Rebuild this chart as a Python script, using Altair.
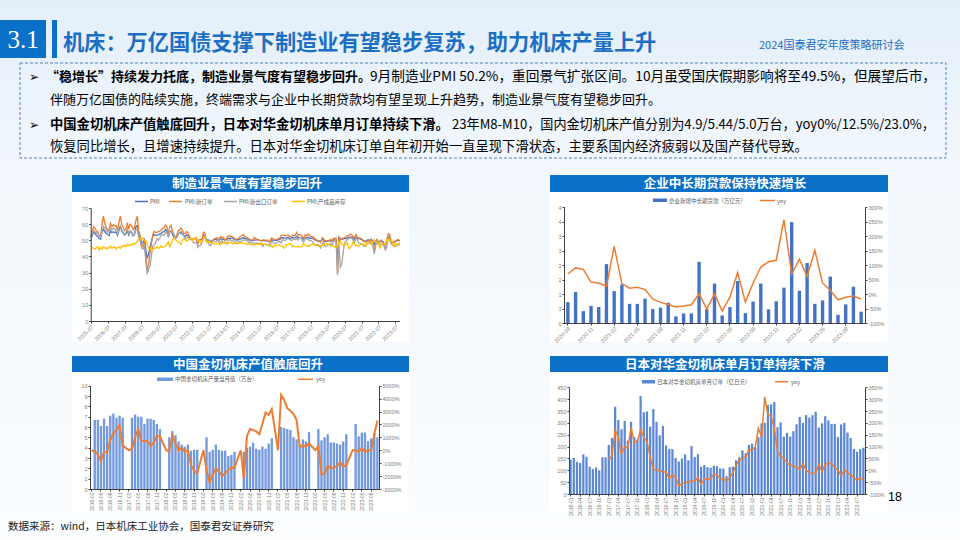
import altair as alt
import pandas as pd

FONT = "Noto Sans CJK SC"
HDR_BLUE = "#0b70c8"
BAR_BLUE = "#4472c4"
ORANGE = "#ed7d31"

# ---------------- data ----------------
def months(y0, m0, n):
    out, y, m = [], y0, m0
    for _ in range(n):
        out.append(f"{y}-{m:02d}")
        m += 1
        if m > 12:
            m, y = 1, y + 1
    return out

# Panel 1: PMI, 2005-07 .. 2023-10 (monthly)
pmi = [51.1, 52.6, 55.1, 54.1, 53.1, 52.2,
       51.1, 50.7, 55.3, 56.8, 55.3, 54.4, 53.5, 52.8, 55.7, 54.7, 55.3, 54.8,
       55.1, 53.1, 56.1, 58.6, 55.8, 54.5, 53.3, 54.0, 56.1, 53.2, 55.4, 55.3,
       53.0, 53.4, 58.4, 59.2, 53.3, 52.0, 48.4, 48.4, 51.2, 44.6, 38.8, 41.2,
       45.3, 49.0, 52.4, 53.5, 53.1, 53.2, 53.3, 54.0, 54.3, 55.2, 55.2, 56.6,
       55.8, 52.0, 55.1, 55.7, 53.9, 52.1, 51.2, 51.7, 53.8, 54.7, 55.2, 53.9,
       52.9, 52.2, 53.4, 52.9, 52.0, 50.9, 50.7, 50.9, 51.2, 50.4, 49.0, 50.3,
       50.5, 51.0, 53.1, 53.3, 50.4, 50.2, 50.1, 49.2, 49.8, 50.2, 50.6, 50.6,
       50.4, 50.1, 50.9, 50.6, 50.8, 50.1, 50.3, 51.0, 51.1, 51.4, 51.4, 51.0,
       50.5, 50.2, 50.3, 50.4, 50.8, 51.0, 51.7, 51.1, 51.1, 50.8, 50.3, 50.1,
       49.8, 49.9, 50.1, 50.1, 50.2, 50.2, 50.0, 49.7, 49.8, 49.8, 49.6, 49.7,
       49.4, 49.0, 50.2, 50.1, 50.1, 50.0, 49.9, 50.4, 50.4, 51.2, 51.7, 51.4,
       51.3, 51.6, 51.8, 51.2, 51.2, 51.7, 51.4, 51.7, 52.4, 51.6, 51.8, 51.6,
       51.3, 50.3, 51.5, 51.4, 51.9, 51.5, 51.2, 51.3, 50.8, 50.2, 50.0, 49.4,
       49.5, 49.2, 50.5, 50.1, 49.4, 49.4, 49.7, 49.5, 49.8, 49.3, 50.2, 50.2,
       50.0, 35.7, 52.0, 50.8, 50.6, 50.9, 51.1, 51.0, 51.5, 51.4, 52.1, 51.9,
       51.3, 50.6, 51.9, 51.1, 51.0, 50.9, 50.4, 50.1, 49.6, 49.2, 50.1, 50.3,
       50.1, 50.2, 49.5, 47.4, 49.6, 50.2, 49.0, 49.4, 50.1, 49.2, 48.0, 47.0,
       50.1, 52.6, 51.9, 49.2, 48.8, 49.0, 49.3, 49.7, 50.2, 49.5]
new_orders = [52.5, 55.0, 58.5, 57.5, 56.0, 55.0,
              53.0, 52.5, 59.5, 65.0, 60.5, 58.0, 56.0, 56.5, 60.5, 58.5, 59.5, 59.0,
              59.0, 56.0, 61.0, 65.0, 60.0, 58.0, 56.0, 57.0, 61.0, 57.0, 60.0, 59.0,
              56.5, 57.5, 62.0, 65.0, 56.0, 53.5, 47.5, 46.0, 50.0, 41.0, 31.0, 35.0,
              41.8, 47.5, 53.6, 55.5, 54.8, 55.0, 55.4, 55.6, 56.4, 57.6, 57.7, 59.4,
              58.5, 53.4, 58.3, 59.3, 55.6, 53.5, 51.7, 52.9, 56.0, 56.3, 57.6, 56.2,
              54.1, 54.1, 55.4, 54.7, 52.3, 50.9, 50.6, 50.9, 51.3, 50.5, 47.8, 50.0,
              50.2, 51.0, 55.1, 54.5, 49.8, 49.2, 49.0, 48.7, 49.8, 50.4, 51.2, 51.2,
              51.6, 50.1, 52.3, 51.7, 51.8, 50.4, 50.6, 52.4, 52.8, 52.5, 52.3, 52.0,
              50.9, 50.5, 51.1, 51.2, 52.3, 52.8, 53.6, 52.5, 52.2, 51.6, 50.9, 50.4,
              50.2, 50.4, 51.8, 51.0, 50.6, 50.1, 49.9, 49.7, 50.2, 50.3, 49.8, 50.2,
              49.5, 48.6, 51.4, 51.0, 50.7, 50.5, 50.4, 51.3, 50.9, 52.8, 53.2, 53.2,
              52.8, 53.0, 53.3, 52.3, 52.3, 53.1, 52.8, 53.1, 54.8, 52.9, 53.6, 53.4,
              52.6, 51.0, 53.3, 52.9, 53.8, 53.2, 52.3, 52.2, 52.0, 50.8, 50.4, 49.7,
              49.6, 48.6, 51.6, 51.4, 49.8, 49.6, 49.8, 49.7, 50.5, 49.6, 51.3, 51.2,
              51.4, 29.3, 52.0, 50.2, 50.9, 51.4, 51.7, 52.0, 52.8, 52.8, 53.9, 53.6,
              52.3, 51.5, 53.6, 52.0, 51.3, 51.5, 50.9, 49.6, 49.3, 48.8, 49.4, 49.7,
              49.3, 50.7, 48.8, 42.6, 48.2, 50.4, 48.5, 49.2, 49.8, 48.1, 46.4, 43.9,
              50.9, 54.1, 53.6, 48.8, 48.3, 48.6, 49.5, 50.2, 50.5, 49.5]
export_orders = [52.5, 53.5, 56.0, 55.5, 54.0, 55.0,
                 53.0, 52.0, 56.0, 58.5, 57.5, 56.0, 55.0, 55.0, 58.0, 56.5, 57.5, 57.0,
                 56.0, 54.0, 57.5, 59.0, 56.5, 55.0, 53.5, 54.5, 57.5, 54.0, 56.0, 55.0,
                 52.5, 53.5, 56.5, 57.5, 52.0, 50.0, 45.5, 44.5, 46.5, 38.0, 29.0, 32.0,
                 33.7, 40.2, 46.4, 47.2, 48.5, 50.9, 50.0, 51.4, 53.2, 53.5, 52.9, 54.6,
                 54.6, 52.5, 55.5, 55.9, 55.0, 53.5, 51.2, 51.9, 53.8, 54.6, 54.3, 53.6,
                 52.9, 50.5, 51.2, 52.0, 51.1, 50.4, 50.3, 48.3, 48.6, 48.6, 45.6, 46.9,
                 46.9, 49.0, 51.1, 51.9, 49.8, 48.9, 47.4, 46.6, 48.4, 50.1, 49.4, 49.1,
                 50.6, 48.3, 48.6, 50.1, 48.3, 48.6, 47.7, 49.2, 50.2, 50.4, 49.5, 49.8,
                 49.3, 48.2, 49.1, 49.3, 49.3, 49.3, 50.1, 50.2, 50.1, 49.9, 48.4, 49.1,
                 48.4, 48.5, 48.4, 48.1, 48.3, 48.2, 47.9, 47.7, 46.2, 47.6, 47.5, 47.5,
                 47.4, 46.4, 49.0, 49.1, 48.1, 47.9, 48.5, 49.2, 49.2, 48.4, 50.3, 50.1,
                 49.8, 50.8, 51.0, 50.6, 50.0, 50.1, 50.9, 50.4, 51.0, 50.1, 51.6, 51.9,
                 49.5, 49.0, 51.3, 50.7, 51.2, 49.8, 49.8, 49.4, 48.0, 46.9, 47.0, 46.6,
                 46.9, 45.2, 47.1, 49.2, 46.5, 46.3, 46.9, 47.2, 48.2, 47.0, 48.8, 50.3,
                 48.7, 28.7, 46.4, 33.5, 35.3, 42.6, 48.4, 49.1, 50.8, 51.0, 51.5, 51.3,
                 50.2, 48.8, 51.2, 50.4, 48.3, 48.1, 47.7, 46.7, 46.2, 46.6, 48.5, 48.1,
                 48.4, 49.0, 47.2, 41.6, 46.2, 49.5, 47.4, 48.1, 47.0, 47.6, 46.7, 44.2,
                 46.1, 52.4, 50.4, 47.6, 47.2, 46.4, 46.3, 46.7, 47.8, 46.8]
inventory = [46.5, 45.5, 45.0, 44.5, 45.5, 46.0,
             44.0, 45.5, 44.5, 46.0, 45.5, 44.5, 45.5, 45.0, 46.5, 45.0, 45.5, 46.0,
             44.5, 45.5, 46.0, 45.0, 46.5, 46.0, 47.0, 46.0, 47.5, 46.5, 47.5, 47.0,
             48.0, 47.5, 48.5, 49.0, 50.5, 51.5, 51.0, 51.5, 50.0, 50.0, 47.5, 45.0,
             44.5, 45.5, 44.0, 45.5, 45.0, 46.0, 45.0, 45.5, 46.5, 45.5, 46.0, 46.5,
             47.5, 49.0, 46.0, 48.0, 50.0, 51.5, 50.5, 49.5, 49.0, 48.5, 47.5, 50.0,
             51.0, 50.5, 49.5, 50.0, 51.0, 51.5, 50.0, 51.0, 50.5, 52.0, 49.5, 50.0,
             48.5, 49.5, 51.0, 52.5, 49.0, 48.5, 49.5, 49.0, 48.5, 48.5, 47.5, 47.9,
             47.8, 47.7, 47.2, 48.6, 48.5, 49.2, 48.1, 47.7, 48.3, 48.8, 48.4, 47.9,
             48.4, 48.2, 48.0, 48.1, 48.7, 48.2, 48.1, 47.9, 48.3, 47.4, 47.7, 47.6,
             47.3, 47.2, 47.8, 47.3, 47.7, 47.5, 47.5, 48.3, 47.4, 47.8, 47.3, 47.2,
             47.1, 47.3, 46.9, 45.6, 46.8, 46.5, 47.1, 46.7, 47.1, 46.4, 46.2, 45.0,
             45.9, 47.4, 47.4, 48.0, 47.5, 46.1, 46.5, 46.1, 46.1, 46.1, 46.1, 45.8,
             46.3, 48.1, 46.9, 46.3, 46.6, 46.3, 47.4, 47.3, 47.5, 47.5, 47.1, 47.5,
             46.5, 46.1, 47.0, 46.5, 48.1, 48.1, 47.1, 47.8, 46.5, 46.6, 46.4, 45.6,
             46.0, 46.1, 49.1, 49.3, 47.3, 46.8, 47.6, 47.1, 48.4, 44.9, 45.7, 46.2,
             49.0, 48.0, 46.7, 46.8, 46.5, 47.1, 47.6, 47.7, 47.2, 46.3, 48.5, 48.5,
             48.0, 47.3, 48.9, 50.3, 49.3, 48.6, 48.0, 45.2, 47.3, 48.0, 48.1, 47.2,
             50.6, 50.6, 49.5, 50.4, 48.9, 46.2, 48.2, 47.6, 47.1, 48.5]
pmi_series = ["PMI", "PMI:新订单", "PMI:新出口订单", "PMI:产成品库存"]
pmi_colors = ["#4472c4", "#ed7d31", "#a5a5a5", "#ffc000"]

# Panel 2: corporate medium/long-term loans, 2020-08 .. 2023-10
loan_months = months(2020, 8, 39)
loans = [0.72, 1.07, 0.41, 0.59, 0.55, 2.03, 1.10, 1.33, 0.66, 0.66, 0.84, 0.48, 0.53,
         0.70, 0.23, 0.33, 0.33, 2.11, 0.48, 1.36, 0.26, 0.55, 1.45, 0.34, 0.74, 1.36,
         0.47, 0.75, 1.22, 3.48, 1.11, 2.07, 0.66, 0.78, 1.60, 0.28, 0.64, 1.25, 0.39]
loans_yoy = [69, 90, 85, 41, 38, 26, 164, 36, 20, 23, 15, -17, -29,
             -36, -45, -41, -37, 1, -52, 0, -59, -11, 74, -28, 38, 93,
             111, 116, 256, 69, 120, 60, 151, 38, 13, -20, -11, -7, -17]

# Panel 3: China metal-cutting machine tool output, 2016-02 .. 2023-10
cn_months = months(2016, 2, 93)
N = None
cn_output = [N, 6.7, 6.7, 6.1, 6.8, 6.1, 7.1, 7.3, 6.9, 7.1, 6.9,
             N, N, 6.9, 7.2, 7.0, 7.0, 6.3, 6.8, 6.8, 6.7, 6.3, 5.8,
             N, N, 5.0, 5.6, 5.2, 4.6, 4.3, 4.1, 4.3, 3.7, 3.8, 3.8,
             N, N, 5.0, 3.6, 3.8, 4.3, 3.8, 3.7, 3.7, 3.2, 3.3, 3.6,
             N, N, 3.6, 4.0, 4.1, 4.5, 3.9, 3.8, 4.1, 3.9, 4.4, 4.9,
             N, N, 6.0, 5.9, 5.8, 5.7, 5.0, 4.8, 4.3, 4.8, 4.6, 5.5,
             N, N, 5.8, 4.7, 5.0, 5.3, 4.5, 4.5, 4.4, 4.3, 4.6, 5.3,
             N, N, 6.3, 5.1, 5.45, 5.45, 4.65, 4.9, 5.44, 5.0]
cn_yoy = [0, -110, -300, -830, -160, -160, 790, 1300, 1560, 1950, 380,
          N, 0, 100, 1000, 1650, 740, 710, 740, 350, 610, 1080, 1080,
          N, 0, -110, 1130, 540, 0, 200, -110, 0, -1140, -1590, -1800,
          N, 0, -1540, -2520, -1850, -1400, -1660, -1990, -1790, -1530, -1330, -1350,
          N, 0, -2180, 1100, 1650, 1560, 1460, 1250, 2080, 2930, 2730, 3190,
          N, 0, 4280, 3890, 3240, 3060, 2800, 2340, 220, 400, 280, 540,
          N, 0, 320, -1860, -1790, -1190, -1400, -1330, -1220, -940, -1270, -1140,
          N, 0, 0, -110, 150, -110, 0, 0, 1250, 2300]

# Panel 4: Japan machine-tool orders from China, 2016-01 .. 2023-09
jp_months = months(2016, 1, 93)
jp_orders = [145, 152, 135, 131, 167, 157, 115, 105, 112, 100, 155, 155,
             207, 236, 368, 312, 273, 308, 225, 304, 240, 230, 413, 345,
             348, 284, 358, 304, 247, 287, 205, 190, 189, 152, 137, 150,
             167, 142, 202, 156, 168, 115, 122, 113, 110, 119, 117, 108,
             107, 75, 113, 115, 142, 155, 184, 172, 207, 212, 196, 240,
             298, 300, 375, 378, 388, 282, 302, 242, 258, 242, 265, 294,
             325, 300, 333, 322, 332, 347, 280, 298, 328, 310, 295, 296,
             240, 293, 300, 259, 236, 190, 178, 189, 195]
jp_yoy = [N] * 12 + [46, 60, 170, 139, 69, 97, 97, 181, 117, 125, 170, 139,
                     121, 55, 4, 1, -2, -6, -7, -34, -20, -30, -66, -55,
                     -52, -48, -45, -45, -31, -58, -37, -38, -35, -16, -20, -34,
                     -38, -44, -30, -10, 22, 43, 50, 55, 86, 88, 97, 177,
                     139, 310, 233, 229, 177, 79, 60, 50, 32, 22, 18, 13,
                     4, 27, 1, -10, -13, -13, 25, -6, 25, 30, 27, 13,
                     1, -23, 1, -10, -20, -31, -41, -34, -38]

# ---------------- helpers ----------------
one = pd.DataFrame({"k": [0]})


def T(text, x, y, size, color="#000000", weight="normal", align="left", font=FONT):
    return alt.Chart(one).mark_text(text=text, fontSize=size, color=color, fontWeight=weight,
                                    align=align, baseline="middle", font=font).encode(
        x=alt.value(x), y=alt.value(y))


def R(x, x2, y, y2, **kw):
    return alt.Chart(one).mark_rect(**kw).encode(
        x=alt.value(x), x2=alt.value(x2), y=alt.value(y), y2=alt.value(y2))


def L(x, x2, y, color, width):
    return alt.Chart(one).mark_rule(color=color, strokeWidth=width).encode(
        x=alt.value(x), x2=alt.value(x2), y=alt.value(y))


def ax(**kw):
    base = dict(title=None, grid=False, labelFont="Liberation Sans", labelFontSize=5.5,
                labelColor="#808080", domainColor="#404040", tickColor="#404040", tickSize=2,
                labelPadding=1, labelOverlap=False, labelFlush=False, labelBound=False, zindex=2)
    base.update(kw)
    return alt.Axis(**base)


layers = []

# background
layers.append(R(0, 960, 0, 540, fill=alt.Gradient(
    gradient="linear", x1=0, x2=0, y1=0, y2=1,
    stops=[alt.GradientStop(color="#e4effa", offset=0),
           alt.GradientStop(color="#f1f7fc", offset=0.3),
           alt.GradientStop(color="#fbfdff", offset=1)])))

# header
layers.append(R(0, 46, 20, 58, fill=HDR_BLUE))
layers.append(R(52, 57, 20, 58, fill=HDR_BLUE))
layers.append(T("3.1", 23, 40, 25, color="#ffffff", align="center", font="Liberation Sans Narrow"))
layers.append(T("机床：万亿国债支撑下制造业有望稳步复苏，助力机床产量上升", 63, 44, 21.2,
                color="#1a6fc4", weight="bold"))
layers.append(T("2024国泰君安年度策略研讨会", 759, 46, 11, color="#1a6fc4"))

# text box
layers.append(R(20, 946, 63, 158, fillOpacity=0, stroke="#4f81bd", strokeWidth=1, strokeDash=[3, 2]))
layers.append(T("➢", 29, 77, 12, font="DejaVu Sans"))
layers.append(T("➢", 29, 125, 12, font="DejaVu Sans"))
layers.append(T("“稳增长”持续发力托底，制造业景气度有望稳步回升。", 46, 77, 13, weight="bold"))
layers.append(T("9月制造业PMI  50.2%，重回景气扩张区间。10月虽受国庆假期影响将至49.5%，但展望后市，", 370, 77, 13.7))
layers.append(T("伴随万亿国债的陆续实施，终端需求与企业中长期贷款均有望呈现上升趋势，制造业景气度有望稳步回升。", 50, 100, 13))
layers.append(T("中国金切机床产值触底回升，日本对华金切机床单月订单持续下滑。", 50, 125, 13.3, weight="bold"))
layers.append(T("23年M8-M10，国内金切机床产值分别为4.9/5.44/5.0万台，yoy0%/12.5%/23.0%，", 452, 125, 13.1))
layers.append(T("恢复同比增长，且增速持续提升。日本对华金切机床订单自年初开始一直呈现下滑状态，主要系国内经济疲弱以及国产替代导致。", 50, 147, 13.3))

# panel backgrounds and title bars
for (x0, x1, ya, yb, yc, title, cx) in [
    (72, 409, 175, 192, 342, "制造业景气度有望稳步回升", 247),
    (550, 888, 175, 192, 342, "企业中长期贷款保持快速增长", 725),
    (72, 409, 356, 372, 512, "中国金切机床产值触底回升", 248),
    (550, 888, 356, 372, 512, "日本对华金切机床单月订单持续下滑", 725),
]:
    layers.append(R(x0, x1, yb, yc, fill="#ffffff"))
    layers.append(R(x0, x1, ya, yb, fill=HDR_BLUE))
    layers.append(T(title, cx, (ya + yb) / 2 + 0.5, 12.5, color="#ffffff", weight="bold", align="center"))

# ---------- panel 1 ----------
n1 = len(pmi)
df1 = pd.DataFrame({
    "m": list(range(n1)) * 4,
    "v": pmi + new_orders + export_orders + inventory,
    "s": sum([[s] * n1 for s in pmi_series], []),
})
p1 = alt.Chart(df1).mark_line(strokeWidth=1.3).encode(
    x=alt.X("m:Q", scale=alt.Scale(domain=[0, n1 - 1], range=[90.7, 399.6], nice=False, zero=False),
            axis=ax(orient="bottom", offset=-(540 - 321), values=list(range(0, n1, 12)),
                    labelExpr="(2005 + floor(datum.value / 12)) + '-07'", labelAngle=315)),
    y=alt.Y("v:Q", scale=alt.Scale(domain=[0, 70], range=[321, 208], nice=False),
            axis=ax(orient="left", offset=-90.7, values=list(range(0, 71, 10)))),
    color=alt.Color("s:N", scale=alt.Scale(domain=pmi_series, range=pmi_colors), legend=None),
)
layers.append(p1)
leg1_y = 201.5
for (lx, tx, col, lab) in [(135, 150, pmi_colors[0], "PMI"), (169, 185, pmi_colors[1], "PMI:新订单"),
                           (224, 239, pmi_colors[2], "PMI:新出口订单"), (292, 307, pmi_colors[3], "PMI:产成品库存")]:
    layers.append(L(lx, lx + 13, leg1_y, col, 1.5))
    layers.append(T(lab, tx, leg1_y, 5.5, color="#595959"))

# ---------- panel 2 ----------
df2 = pd.DataFrame({"mon": loan_months, "loan": loans, "yoy": loans_yoy})
x2s = alt.Scale(domain=loan_months, range=[564, 865], paddingInner=0.56, paddingOuter=0.28)
b2 = alt.Chart(df2).mark_bar(color=BAR_BLUE).encode(
    x=alt.X("mon:N", sort=None, scale=x2s,
            axis=ax(orient="bottom", offset=-(540 - 323), values=loan_months[0::3], labelAngle=315)),
    y=alt.Y("loan:Q", scale=alt.Scale(domain=[0, 4], range=[323, 207], nice=False),
            axis=ax(orient="left", offset=-564, values=[i * 0.5 for i in range(9)],
                    labelExpr="'' + round(datum.value)")),
)
l2 = alt.Chart(df2).mark_line(color=ORANGE, strokeWidth=1.5).encode(
    x=alt.X("mon:N", sort=None, scale=x2s, axis=None),
    y=alt.Y("yoy:Q", scale=alt.Scale(domain=[-100, 300], range=[323, 207], nice=False, zero=False),
            axis=ax(orient="right", offset=-(960 - 865), values=list(range(-100, 301, 50)),
                    labelExpr="datum.value + '%'")),
)
layers += [b2, l2]
layers.append(R(653, 667, 198.5, 202, fill=BAR_BLUE))
layers.append(T("企业新增中长期贷款（万亿元）", 669, 200.5, 5.5, color="#595959"))
layers.append(L(760, 775, 200.5, ORANGE, 1.5))
layers.append(T("yoy", 777, 200.5, 5.5, color="#595959"))

# ---------- panel 3 ----------
df3 = pd.DataFrame({"mon": cn_months, "out": cn_output, "yoy": cn_yoy})
x3s = alt.Scale(domain=cn_months, range=[90, 379], paddingInner=0.25, paddingOuter=0.15)
b3 = alt.Chart(df3.dropna(subset=["out"])).mark_bar(color="#7299dd").encode(
    x=alt.X("mon:N", sort=None, scale=x3s,
            axis=ax(orient="bottom", offset=-(540 - 489), values=cn_months[0::3], labelAngle=270,
                    labelFontSize=5)),
    y=alt.Y("out:Q", scale=alt.Scale(domain=[0, 10], range=[489, 385.7], nice=False),
            axis=ax(orient="left", offset=-90, values=list(range(0, 11)))),
)
l3 = alt.Chart(df3.dropna(subset=["yoy"])).mark_line(color=ORANGE, strokeWidth=2).encode(
    x=alt.X("mon:N", sort=None, scale=x3s, axis=None),
    y=alt.Y("yoy:Q", scale=alt.Scale(domain=[-3000, 5000], range=[489, 385.7], nice=False, zero=False),
            axis=ax(orient="right", offset=-(960 - 379), values=list(range(-3000, 5001, 1000)),
                    labelExpr="datum.value + '%'")),
)
layers += [b3, l3]
layers.append(R(157, 173, 377.5, 381, fill="#7299dd"))
layers.append(T("中国金切机床产量当月值（万台）", 175, 379.3, 5.5, color="#595959"))
layers.append(L(298, 313, 379.3, ORANGE, 1.5))
layers.append(T("yoy", 316, 379.3, 5.5, color="#595959"))

# ---------- panel 4 ----------
df4 = pd.DataFrame({"mon": jp_months, "ord": jp_orders, "yoy": jp_yoy})
x4s = alt.Scale(domain=jp_months, range=[569, 865], paddingInner=0.3, paddingOuter=0.15)
b4 = alt.Chart(df4).mark_bar(color="#5b87d6").encode(
    x=alt.X("mon:N", sort=None, scale=x4s,
            axis=ax(orient="bottom", offset=-(540 - 494), values=jp_months[0::3], labelAngle=270,
                    labelFontSize=5)),
    y=alt.Y("ord:Q", scale=alt.Scale(domain=[0, 450], range=[494, 387.3], nice=False),
            axis=ax(orient="left", offset=-569, values=list(range(0, 451, 50)))),
)
l4 = alt.Chart(df4.dropna(subset=["yoy"])).mark_line(color=ORANGE, strokeWidth=1.5).encode(
    x=alt.X("mon:N", sort=None, scale=x4s, axis=None),
    y=alt.Y("yoy:Q", scale=alt.Scale(domain=[-100, 350], range=[494, 387.3], nice=False, zero=False),
            axis=ax(orient="right", offset=-(960 - 865), values=list(range(-100, 351, 50)),
                    labelExpr="datum.value + '%'")),
)
layers += [b4, l4]
layers.append(R(642, 655, 380, 383.5, fill="#5b87d6"))
layers.append(T("日本对华金切机床单月订单（亿日元）", 657, 381.8, 5.5, color="#595959"))
layers.append(L(775, 788, 381.8, ORANGE, 1.5))
layers.append(T("yoy", 791, 381.8, 5.5, color="#595959"))

# footer
layers.append(T("18", 888, 497, 12.5, color="#000000", font="Liberation Sans"))
layers.append(T("数据来源：wind，日本机床工业协会，国泰君安证券研究", 8, 527, 10.5, color="#222222"))

chart = alt.layer(*layers).resolve_scale(
    x="independent", y="independent", color="independent"
).properties(
    width=960, height=540, padding=0, autosize=alt.AutoSizeParams(type="none")
).configure_view(stroke=None)

chart.save("out.html", embed_options={"renderer": "svg", "actions": False})
